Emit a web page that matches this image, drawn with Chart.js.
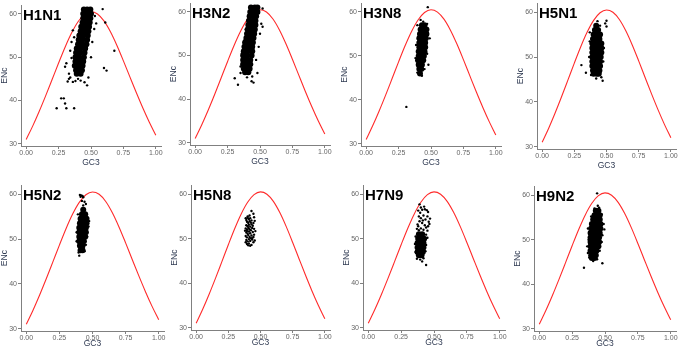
<!DOCTYPE html>
<html>
<head>
<meta charset="utf-8">
<script src="https://cdn.jsdelivr.net/npm/chart.js@4.4.0/dist/chart.umd.min.js"></script>
<style>
html, body { margin: 0; padding: 0; background: #fff; }
#wrap { position: relative; width: 680px; height: 350px; overflow: hidden; }
#wrap canvas { position: absolute; }
</style>
</head>
<body>
<div id="wrap"></div>
<script>
// axis ticks
const gc3Ticks = [0, 0.25, 0.5, 0.75, 1];
const encTicks = [30, 40, 50, 60];

// expected ENc curve (red line)
const curveGC3 = [0, 0.05, 0.1, 0.15, 0.2, 0.25, 0.3, 0.35, 0.4, 0.45, 0.5, 0.55, 0.6, 0.65, 0.7, 0.75, 0.8, 0.85, 0.9, 0.95, 1];
const curveENc = [31.0, 34.09, 37.47, 41.08, 44.85, 48.65, 52.3, 55.56, 58.17, 59.88, 60.5, 59.98, 58.37, 55.86, 52.7, 49.15, 45.45, 41.78, 38.27, 34.99, 32.0];

const panelNames = ['H1N1', 'H3N2', 'H3N8', 'H5N1', 'H5N2', 'H5N8', 'H7N9', 'H9N2'];

// dense part of each cloud: [ENc, GC3, GC3, ...]
const h1n1Dense = [
  [61, .445, .47, .495], [60, .44, .47, .50], [59, .44, .465, .495], [58, .435, .46, .49],
  [57, .425, .455, .485], [56, .42, .45, .48], [55, .41, .44, .475], [54, .405, .435, .47],
  [53, .40, .43, .465], [52, .39, .42, .455], [51, .385, .415, .45], [50, .38, .41, .445],
  [49, .38, .41, .44], [48, .375, .405, .435], [47, .385, .41, .43], [46.2, .39, .42]
];
const h3n2Dense = [
  [61, .43, .46, .48], [60, .425, .455, .48], [59, .42, .45, .47], [58, .415, .445, .465],
  [57, .41, .44, .465], [56, .405, .435, .46], [55, .40, .43, .455], [54, .395, .425, .45],
  [53, .385, .415, .445], [52, .38, .41, .44], [51, .375, .405, .44], [50, .37, .40, .435],
  [49, .37, .395, .425], [48, .37, .40, .425], [47, .375, .40, .42], [46.2, .385, .41]
];
const h3n8Dense = [
  [57, .43, .45], [56, .42, .445, .465], [55, .415, .44, .465], [54, .41, .435, .46],
  [53, .41, .435, .455], [52, .41, .435, .455], [51, .405, .43, .45], [50, .405, .425, .445],
  [49, .40, .425, .44], [48, .405, .43], [47, .41, .425], [46, .415]
];
const h5n1Dense = [
  [57, .42], [56, .41, .435], [55, .40, .425, .45], [54, .395, .42, .445],
  [53, .39, .415, .44, .46], [52, .39, .415, .44, .46], [51, .39, .415, .44, .46],
  [50, .39, .415, .44, .455], [49, .39, .415, .44, .45], [48, .39, .415, .44, .45],
  [47, .395, .42, .445], [46.3, .40, .425, .44]
];
const h5n2Dense = [
  [56.5, .43], [55.5, .42, .445], [54.5, .41, .435, .455], [53.5, .405, .43, .455],
  [52.5, .40, .425, .45], [51.5, .40, .425, .45], [50.5, .40, .425, .445],
  [49.5, .40, .425, .435], [48.5, .405, .425], [47.5, .41, .425]
];
const h5n8Dense = [];
const h7n9Dense = [
  [51, .385, .41], [50, .38, .405, .425], [49, .375, .40, .42], [48, .375, .40, .42],
  [47, .375, .395, .415], [46.3, .385, .405]
];
const h9n2Dense = [
  [56.5, .43, .45], [55.5, .42, .445, .46], [54.5, .41, .435, .46], [53.5, .40, .425, .45, .465],
  [52.5, .395, .42, .445, .465], [51.5, .39, .415, .44, .46], [50.5, .39, .415, .44, .455],
  [49.5, .39, .415, .44, .455], [48.5, .39, .415, .435, .45], [47.5, .39, .415, .435],
  [46.5, .395, .42, .43], [45.9, .40, .42]
];

// single genes around the clouds: [GC3, ENc]
const h1n1Sparse = [
  [.59, 61.1], [.54, 57.8], [.61, 58.0], [.53, 59.5], [.525, 56.5], [.68, 51.5], [.60, 47.5], [.62, 46.9],
  [.30, 47.8], [.31, 48.6], [.33, 46.2], [.32, 44.4], [.34, 45.3], [.36, 44.3], [.35, 49.8], [.34, 51.5],
  [.35, 53.5], [.37, 54.6], [.36, 56.2], [.42, 44.6], [.45, 44.2], [.47, 43.5], [.48, 45.3], [.50, 50.0],
  [.51, 53.5], [.49, 56.8], [.235, 38.2], [.31, 38.2], [.27, 40.5], [.29, 40.5], [.30, 39.3], [.37, 38.2],
  [.33, 45.0], [.38, 44.5], [.40, 45.0]
];
const h3n2Sparse = [
  [.305, 44.8], [.33, 43.3], [.435, 44.1], [.45, 43.8], [.48, 46], [.51, 57.3], [.52, 56.6], [.50, 55],
  [.49, 52], [.47, 49], [.35, 47.5], [.36, 50.5], [.38, 53.5], [.39, 56], [.35, 46], [.52, 60.8],
  [.40, 45], [.44, 45.2]
];
const h3n8Sparse = [
  [.475, 61.1], [.31, 38.4], [.48, 48], [.44, 57.8], [.47, 57.3], [.395, 57], [.49, 54], [.385, 52.5],
  [.38, 49.5], [.395, 46.2], [.43, 45.5], [.45, 47], [.47, 50.5], [.42, 58.2], [.46, 56.8]
];
const h5n1Sparse = [
  [.50, 58.1], [.50, 56.8], [.49, 57.5], [.305, 48.2], [.34, 46.5], [.47, 44.7], [.43, 58], [.45, 57],
  [.37, 53.5], [.365, 50], [.48, 52], [.475, 49], [.38, 46], [.46, 45.5], [.44, 55.8], [.42, 45.2],
  [.37, 55.5]
];
const h5n2Sparse = [
  [.405, 59.8], [.415, 59.7], [.425, 59.6], [.43, 59.3], [.41, 59.4], [.43, 57.5], [.45, 57.8], [.44, 58.3],
  [.39, 55.5], [.475, 54], [.47, 52.8], [.38, 51.5], [.38, 49.5], [.46, 50.5], [.395, 47], [.40, 46.3],
  [.44, 47.3], [.45, 48.7], [.42, 58.5], [.465, 53.5]
];
const h5n8Sparse = [
  [.385, 54.6], [.39, 54.2], [.40, 54.7], [.41, 54.4], [.42, 54.6], [.395, 53.8], [.405, 53.5], [.415, 53.9],
  [.425, 53.6], [.39, 53.0], [.40, 52.8], [.41, 53.1], [.42, 52.7], [.43, 53.2], [.385, 52.3], [.395, 52.0],
  [.405, 52.4], [.415, 52.1], [.425, 51.9], [.435, 52.4], [.39, 51.4], [.40, 51.1], [.41, 51.6], [.42, 51.2],
  [.44, 51.5], [.385, 50.6], [.395, 50.3], [.405, 50.8], [.415, 50.4], [.43, 50.7], [.45, 50.9], [.39, 49.7],
  [.40, 49.4], [.41, 49.9], [.42, 49.5], [.435, 49.8], [.445, 49.2], [.395, 48.8], [.405, 48.5], [.43, 48.6],
  [.455, 49.6], [.44, 52.9], [.45, 52.2], [.43, 54.1], [.445, 53.5], [.43, 56.2], [.445, 55.6], [.45, 54.8],
  [.455, 54.0], [.46, 51.7], [.435, 50.1], [.445, 50.4], [.41, 48.9], [.42, 48.4], [.38, 51.8], [.385, 49.2],
  [.40, 55.0], [.415, 55.2], [.395, 51.7], [.425, 50.1]
];
const h7n9Sparse = [
  [.39, 57.7], [.40, 57.0], [.38, 56.3], [.395, 55.8], [.41, 56.5], [.43, 56.6], [.445, 56.4], [.385, 55.0],
  [.40, 54.6], [.42, 55.2], [.435, 54.3], [.45, 55.0], [.46, 53.8], [.39, 53.9], [.41, 53.5], [.43, 53.0],
  [.455, 52.8], [.465, 53.3], [.38, 52.8], [.40, 52.3], [.42, 52.0], [.44, 52.5], [.45, 51.8], [.37, 52.2],
  [.385, 51.9], [.44, 50.9], [.45, 50.2], [.36, 50.5], [.355, 48.8], [.44, 48.6], [.435, 47.2], [.36, 47.0],
  [.37, 45.5], [.42, 45.6], [.44, 44.1], [.395, 45.3], [.41, 44.9], [.375, 53.2], [.415, 54.1], [.425, 57.2],
  [.455, 56.0], [.47, 54.5]
];
const h9n2Sparse = [
  [.44, 60.4], [.34, 43.7], [.48, 44.7], [.445, 57.6], [.455, 57.2], [.475, 55.7], [.49, 53.5], [.495, 52.3],
  [.48, 51], [.475, 49.5], [.37, 52.5], [.375, 50], [.365, 48.5], [.37, 47], [.38, 46], [.44, 45.6],
  [.46, 47.5], [.395, 55.2], [.42, 57], [.41, 45.2]
];

const denseSets = [h1n1Dense, h3n2Dense, h3n8Dense, h5n1Dense, h5n2Dense, h5n8Dense, h7n9Dense, h9n2Dense];
const sparseSets = [h1n1Sparse, h3n2Sparse, h3n8Sparse, h5n1Sparse, h5n2Sparse, h5n8Sparse, h7n9Sparse, h9n2Sparse];

// canvas placement: left, top, width, height, x-axis height, title pad
const boxes = [
  [0, 0, 165, 175, 29, 7], [169, -2, 165, 176, 29, 7], [340, -2, 165, 177, 29, 7], [516, -2, 164, 180, 29, 7],
  [0, 180, 168, 171, 20, 2], [170, 180, 164, 170, 20, 2], [342, 180, 167, 170, 20, 2], [513, 181, 167, 170, 20, 2]
];

const FONT = '"Liberation Sans", Arial, sans-serif';
const curve = curveGC3.map((x, i) => ({ x, y: curveENc[i] }));

const panelLabel = {
  id: 'panelLabel',
  afterDraw(chart, args, opts) {
    const { ctx, chartArea } = chart;
    ctx.save();
    ctx.font = 'bold 15px ' + FONT;
    ctx.fillStyle = '#000';
    ctx.fillText(opts.text, chartArea.left + 2, chartArea.top + 15);
    ctx.restore();
  }
};

const wrap = document.getElementById('wrap');

panelNames.forEach((name, i) => {
  const [left, top, w, h, xh, tp] = boxes[i];
  const cv = document.createElement('canvas');
  cv.width = w;
  cv.height = h;
  cv.style.left = left + 'px';
  cv.style.top = top + 'px';
  wrap.appendChild(cv);

  const dense = denseSets[i].flatMap(([y, ...xs]) => xs.map(x => ({ x, y })));
  const sparse = sparseSets[i].map(([x, y]) => ({ x, y }));

  new Chart(cv.getContext('2d'), {
    type: 'scatter',
    data: {
      datasets: [
        { data: dense, pointRadius: 3, backgroundColor: '#000', borderWidth: 0 },
        { data: sparse, pointRadius: 1.2, backgroundColor: '#000', borderWidth: 0 },
        { data: curve, showLine: true, borderColor: '#ff2b2b', borderWidth: 1.1, pointRadius: 0, cubicInterpolationMode: 'monotone', fill: false }
      ]
    },
    options: {
      responsive: false,
      animation: false,
      events: [],
      layout: { padding: { top: 5, right: 3, left: 0, bottom: 0 } },
      scales: {
        x: {
          type: 'linear', min: -0.04, max: 1.04,
          afterBuildTicks: s => { s.ticks = gc3Ticks.map(v => ({ value: v })); },
          afterFit: s => { s.height = xh; },
          border: { color: '#808080', width: 1 },
          grid: { drawOnChartArea: false, tickLength: 3, color: '#808080' },
          ticks: { color: '#666', font: { family: FONT, size: 7 }, padding: 0, maxRotation: 0, autoSkip: false, callback: v => v.toFixed(2) },
          title: { display: true, text: 'GC3', color: '#2f3a52', font: { family: FONT, size: 8.5 }, padding: { top: 0, bottom: tp } }
        },
        y: {
          type: 'linear', min: 29.5, max: 62,
          afterBuildTicks: s => { s.ticks = encTicks.map(v => ({ value: v })); },
          afterFit: s => { s.width = 21; },
          border: { color: '#808080', width: 1 },
          grid: { drawOnChartArea: false, tickLength: 3, color: '#808080' },
          ticks: { color: '#666', font: { family: FONT, size: 7 }, padding: 1 },
          title: { display: true, text: 'ENc', color: '#2f3a52', font: { family: FONT, size: 8.5 }, padding: 0 }
        }
      },
      plugins: {
        legend: { display: false },
        tooltip: { enabled: false },
        panelLabel: { text: name }
      }
    },
    plugins: [panelLabel]
  });
});
</script>
</body>
</html>
